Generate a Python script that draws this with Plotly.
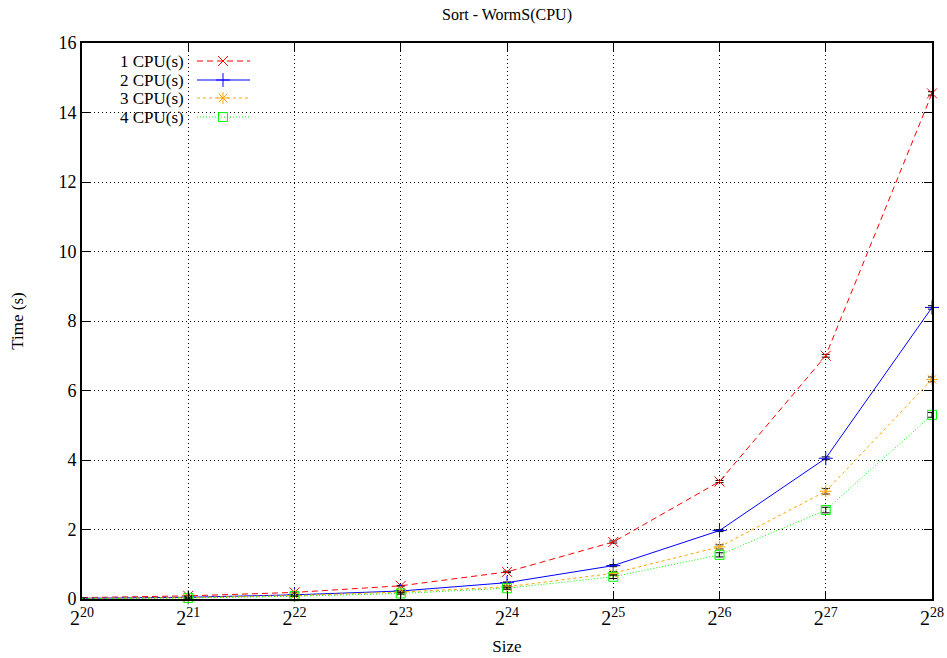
import plotly.graph_objects as go
import math

exponents = [20, 21, 22, 23, 24, 25, 26, 27, 28]
sizes = [2 ** e for e in exponents]
tick_labels = ["2<sup>%d</sup>" % e for e in exponents]

series_names = ["1 CPU(s)", "2 CPU(s)", "3 CPU(s)", "4 CPU(s)"]
cpu1 = [0.04, 0.09, 0.19, 0.38, 0.78, 1.64, 3.38, 7.00, 14.55]
cpu2 = [0.02, 0.05, 0.12, 0.23, 0.47, 0.96, 1.97, 4.05, 8.39]
cpu3 = [0.02, 0.04, 0.10, 0.20, 0.35, 0.74, 1.50, 3.10, 6.32]
cpu4 = [0.01, 0.03, 0.08, 0.16, 0.31, 0.64, 1.27, 2.56, 5.30]
err1 = [0.005, 0.01, 0.01, 0.01, 0.02, 0.03, 0.03, 0.04, 0.05]
err2 = [0.005, 0.01, 0.01, 0.01, 0.02, 0.03, 0.03, 0.04, 0.05]
err3 = [0.005, 0.01, 0.01, 0.01, 0.03, 0.05, 0.06, 0.08, 0.07]
err4 = [0.005, 0.01, 0.01, 0.02, 0.03, 0.05, 0.06, 0.08, 0.07]

colors = ["#ff0000", "#0000ff", "#ffa500", "#00ff00"]
dashes = ["6px,4px", "solid", "3px,3px", "1px,2px"]
symbols = ["x-thin-open", "cross-thin-open", "asterisk-open", "square-open"]
msizes = [10, 10, 10, 9]

FONT = "Liberation Serif, serif"

fig = go.Figure()
for name, ys, es, c, d, s, ms in zip(series_names, [cpu1, cpu2, cpu3, cpu4],
                                      [err1, err2, err3, err4], colors, dashes, symbols, msizes):
    fig.add_trace(go.Scatter(
        x=sizes, y=ys, name=name, mode="lines+markers",
        line=dict(color=c, width=1, dash=d),
        marker=dict(symbol=s, size=ms, color=c, line=dict(color=c, width=1)),
        error_y=dict(type="data", array=es, visible=True, color="black", thickness=1, width=4),
        cliponaxis=False, showlegend=False,
    ))

# Gnuplot-style legend: text on the left, sample on the right
legend_rows = [61, 80, 98, 117]
for name, c, d, s, ms, ry in zip(series_names, colors, dashes, symbols, msizes, legend_rows):
    fig.add_trace(go.Scatter(
        x=[197, 250], y=[ry, ry], mode="lines", xaxis="x2", yaxis="y2",
        line=dict(color=c, width=1, dash=d), showlegend=False, hoverinfo="skip"))
    fig.add_trace(go.Scatter(
        x=[223], y=[ry], mode="markers", xaxis="x2", yaxis="y2",
        marker=dict(symbol=s, size=ms, color=c, line=dict(color=c, width=1)),
        showlegend=False, hoverinfo="skip"))
    fig.add_annotation(x=186, y=ry, xref="x2", yref="y2", text=name, showarrow=False,
                       xanchor="right", yanchor="middle",
                       font=dict(family=FONT, size=17, color="black"))

fig.update_layout(
    width=947, height=658,
    margin=dict(l=82, r=15, t=43, b=59),
    paper_bgcolor="white", plot_bgcolor="white",
    font=dict(family=FONT, size=17, color="black"),
    title=dict(text="Sort - WormS(CPU)", x=0.5, xref="paper", xanchor="center",
               y=1 - 14 / 658, yref="container", yanchor="middle",
               font=dict(family=FONT, size=16, color="black")),
    xaxis=dict(
        type="log", range=[math.log10(sizes[0]), math.log10(sizes[-1])],
        tickmode="array", tickvals=sizes, ticktext=tick_labels,
        ticks="inside", ticklen=8, tickwidth=1, tickcolor="black",
        showline=True, linecolor="black", linewidth=2, mirror="ticks",
        showgrid=True, gridcolor="black", griddash="1px,3px", gridwidth=1,
        zeroline=False, automargin=False,
        tickfont=dict(family=FONT, size=20),
        title=dict(text="Size", font=dict(family=FONT, size=17), standoff=12),
    ),
    yaxis=dict(
        range=[0, 16], dtick=2, tick0=0,
        ticks="inside", ticklen=8, tickwidth=1, tickcolor="black",
        showline=True, linecolor="black", linewidth=2, mirror="ticks",
        showgrid=True, gridcolor="black", griddash="1px,3px", gridwidth=1,
        zeroline=False, automargin=False,
        tickfont=dict(family=FONT, size=18),
        title=dict(text="Time (s)", font=dict(family=FONT, size=17), standoff=30),
    ),
    xaxis2=dict(overlaying="x", range=[82, 932], visible=False, anchor="y2"),
    yaxis2=dict(overlaying="y", range=[599, 43], visible=False, anchor="x2"),
    showlegend=False,
)

fig.write_html("out.html")
